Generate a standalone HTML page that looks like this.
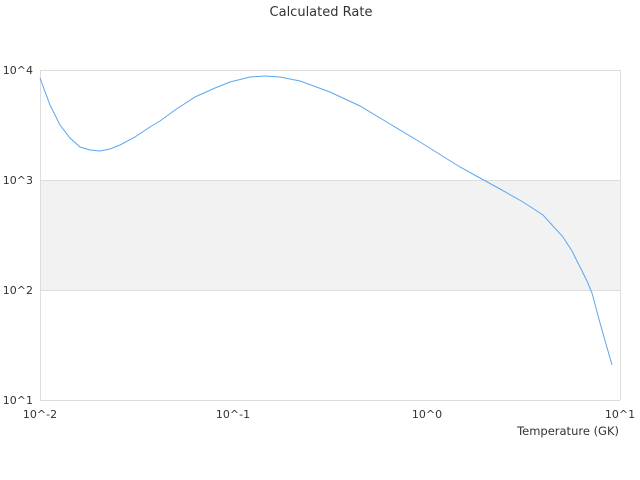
<!DOCTYPE html>
<html><head><style>body{margin:0;background:#fff}svg{display:block}text{font-family:"DejaVu Sans","Liberation Sans",sans-serif;font-size:11px;fill:#333}</style></head>
<body><svg width="640" height="480" viewBox="0 0 640 480">
<rect width="640" height="480" fill="#fff"/>
<rect x="40" y="180" width="580" height="110" fill="#f2f2f2"/>
<g stroke="#ddd" stroke-width="1" fill="none">
<line x1="40" y1="70.5" x2="620" y2="70.5"/>
<line x1="40" y1="180.5" x2="620" y2="180.5"/>
<line x1="40" y1="290.5" x2="620" y2="290.5"/>
<line x1="40" y1="400.5" x2="620" y2="400.5"/>
<line x1="40.5" y1="70" x2="40.5" y2="400"/>
<line x1="620.5" y1="70" x2="620.5" y2="400"/>
</g>
<text x="321" y="16" text-anchor="middle" style="font-size:13px">Calculated Rate</text>
<text x="33" y="74" text-anchor="end">10^4</text>
<text x="33" y="184" text-anchor="end">10^3</text>
<text x="33" y="294" text-anchor="end">10^2</text>
<text x="33" y="404" text-anchor="end">10^1</text>
<text x="40" y="418" text-anchor="middle">10^-2</text>
<text x="233" y="418" text-anchor="middle">10^-1</text>
<text x="427" y="418" text-anchor="middle">10^0</text>
<text x="620" y="418" text-anchor="middle">10^1</text>
<text x="619" y="435" text-anchor="end" style="font-size:11.5px">Temperature (GK)</text>
<polyline fill="none" stroke="#5aa7f0" stroke-width="1" points="40,78 50,105 60,125 70,138 80,147 90,150 100,151 110,149 120,145 135,137 150,127 160,121 175,110 195,97 215,88 230,82 250,77 265,76 280,77 300,81 330,92 360,106 390,124 420,142 460,167 480,178 500,189 523,202 543,215 563,237 572,251 580,267 587,281 592,293 600,323 606,344 612,365"/>
</svg></body></html>
